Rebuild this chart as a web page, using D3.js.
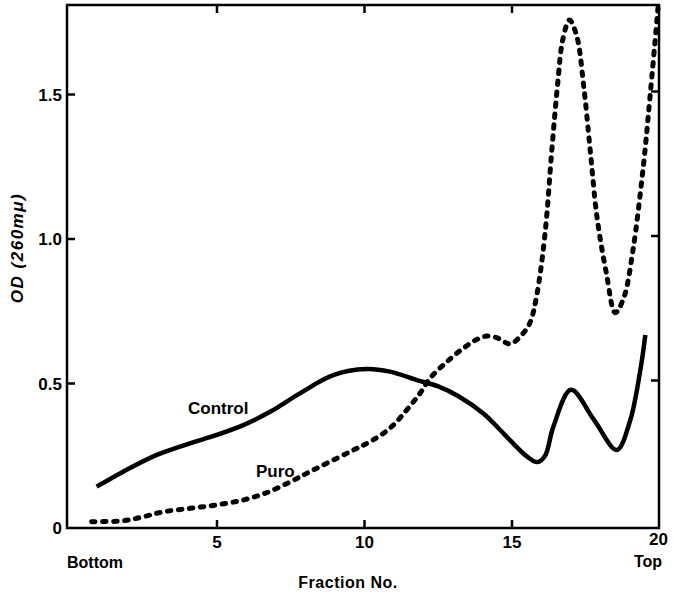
<!DOCTYPE html>
<html>
<head>
<meta charset="utf-8">
<script src="https://cdn.jsdelivr.net/npm/d3@7"></script>
<style>
  body { margin: 0; background: #fff; }
  text { font-family: "Liberation Sans", Arial, sans-serif; fill: #000; }
</style>
</head>
<body>
<script>
// fraction number vs optical density
const controlX = [0.92, 1.82, 2.96, 4.08, 4.99, 5.89, 6.8, 7.81, 8.94, 10.07, 10.86, 11.77, 12.5, 13.2, 14.03, 14.6, 14.93, 15.5, 15.86, 16.12, 16.4, 17, 17.78, 18.55, 19.0, 19.34, 19.52]
const controlY = [0.143, 0.195, 0.253, 0.293, 0.322, 0.356, 0.402, 0.466, 0.529, 0.55, 0.541, 0.512, 0.49, 0.455, 0.396, 0.339, 0.304, 0.248, 0.228, 0.25, 0.35, 0.478, 0.374, 0.27, 0.37, 0.54, 0.668]

const puroX = [0.75, 1.82, 2.5, 3.18, 4.08, 4.99, 5.89, 6.68, 7.59, 8.04, 9.51, 10.19, 10.86, 11.43, 11.88, 12.22, 12.79, 13.35, 13.8, 14.14, 14.5, 14.93, 15.3, 15.6, 15.84, 16.12, 16.35, 16.55, 16.72, 16.95, 17.2, 17.42, 17.65, 17.88, 18.2, 18.5, 18.8, 19.1, 19.45, 19.7, 19.95]
const puroY = [0.022, 0.025, 0.039, 0.056, 0.068, 0.08, 0.097, 0.122, 0.165, 0.189, 0.264, 0.299, 0.345, 0.408, 0.466, 0.518, 0.575, 0.622, 0.652, 0.664, 0.658, 0.637, 0.665, 0.708, 0.806, 1.019, 1.308, 1.539, 1.689, 1.758, 1.7, 1.539, 1.308, 1.077, 0.881, 0.745, 0.8, 0.961, 1.25, 1.516, 1.8]

const xTicks = [5, 10, 15, 20]
const yTicks = [0, 0.5, 1.0, 1.5]
const yTickLabels = ["0", "0.5", "1.0", "1.5"]

const width = 673, height = 592
const plotLeft = 67, plotRight = 659, plotTop = 5, plotBottom = 528

const svg = d3.select("body").append("svg")
    .attr("width", width)
    .attr("height", height)

const x = d3.scaleLinear().domain([0, 20]).range([69.5, 659.5])
const y = d3.scaleLinear().domain([0, 0.5]).range([528, 383.5])

// frame
svg.append("rect")
    .attr("x", plotLeft).attr("y", plotTop)
    .attr("width", plotRight - plotLeft).attr("height", plotBottom - plotTop)
    .attr("fill", "none").attr("stroke", "#000").attr("stroke-width", 2.5)

// ticks, all pointing inward
const tickLen = 8
svg.selectAll(".xtb").data(xTicks.slice(0, 3)).enter().append("line")
    .attr("x1", d => x(d)).attr("x2", d => x(d))
    .attr("y1", plotBottom).attr("y2", plotBottom - tickLen)
    .attr("stroke", "#000").attr("stroke-width", 2.5)
svg.selectAll(".xtt").data(xTicks.slice(0, 3)).enter().append("line")
    .attr("x1", d => x(d)).attr("x2", d => x(d))
    .attr("y1", plotTop).attr("y2", plotTop + tickLen)
    .attr("stroke", "#000").attr("stroke-width", 2.5)
svg.selectAll(".ytl").data(yTicks.slice(1)).enter().append("line")
    .attr("x1", plotLeft).attr("x2", plotLeft + tickLen)
    .attr("y1", d => y(d)).attr("y2", d => y(d))
    .attr("stroke", "#000").attr("stroke-width", 2.5)
svg.selectAll(".ytr").data(yTicks.slice(1)).enter().append("line")
    .attr("x1", plotRight).attr("x2", plotRight - tickLen)
    .attr("y1", d => y(d) - 3).attr("y2", d => y(d) - 3)
    .attr("stroke", "#000").attr("stroke-width", 2.5)

// tick labels
svg.selectAll(".xl").data(xTicks).enter().append("text")
    .attr("x", d => d === 20 ? x(d) - 1 : x(d))
    .attr("y", d => d === 20 ? 545 : 548)
    .attr("text-anchor", "middle")
    .attr("font-size", 17).attr("font-weight", "bold")
    .text(d => d)
svg.selectAll(".yl").data(yTicks).enter().append("text")
    .attr("x", 62)
    .attr("y", d => y(d) + 6)
    .attr("text-anchor", "end")
    .attr("font-size", 17).attr("font-weight", "bold")
    .text((d, i) => yTickLabels[i])

// axis titles
svg.append("text").attr("x", 67).attr("y", 568)
    .attr("font-size", 16).attr("font-weight", "bold").text("Bottom")
svg.append("text").attr("x", 648).attr("y", 567).attr("text-anchor", "middle")
    .attr("font-size", 16).attr("font-weight", "bold").text("Top")
svg.append("text").attr("x", 348).attr("y", 588).attr("text-anchor", "middle")
    .attr("font-size", 16).attr("font-weight", "bold").attr("letter-spacing", 0.5).text("Fraction No.")
svg.append("text")
    .attr("transform", "translate(23,248) rotate(-90)")
    .attr("text-anchor", "middle")
    .attr("font-size", 17).attr("font-weight", "bold").attr("font-style", "italic")
    .attr("letter-spacing", 1.5)
    .text("OD (260mμ)")

// series labels
svg.append("text").attr("x", 188).attr("y", 414)
    .attr("font-size", 17).attr("font-weight", "bold").text("Control")
svg.append("text").attr("x", 256).attr("y", 477)
    .attr("font-size", 17).attr("font-weight", "bold").text("Puro")

const line = d3.line()
    .x(d => x(d[0]))
    .y(d => y(d[1]))
    .curve(d3.curveCatmullRom.alpha(0.5))

svg.append("clipPath").attr("id", "plot")
    .append("rect").attr("x", plotLeft).attr("y", plotTop).attr("width", plotRight - plotLeft + 3).attr("height", plotBottom - plotTop)

svg.append("path")
    .datum(controlX.map((v, i) => [v, controlY[i]]))
    .attr("d", line)
    .attr("fill", "none").attr("stroke", "#000").attr("stroke-width", 4.5)

svg.append("path")
    .datum(puroX.map((v, i) => [v, puroY[i]]))
    .attr("d", line)
    .attr("clip-path", "url(#plot)")
    .attr("fill", "none").attr("stroke", "#000").attr("stroke-width", 5)
    .attr("stroke-linecap", "round")
    .attr("stroke-dasharray", "3.5,7.5")
</script>
</body>
</html>
